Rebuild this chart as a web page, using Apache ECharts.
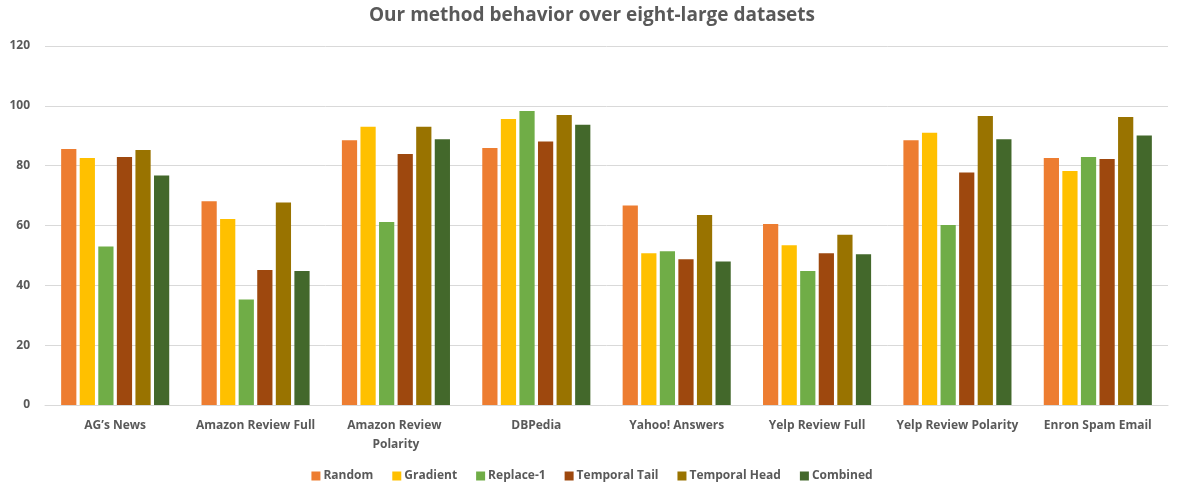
<!DOCTYPE html>
<html>
<head>
<meta charset="utf-8">
<script src="https://cdn.jsdelivr.net/npm/echarts@6/dist/echarts.min.js"></script>
<style>
  html,body{margin:0;padding:0;background:#fff;}
  #main{width:1184px;height:491px;}
</style>
</head>
<body>
<div id="main"></div>
<script>
// datasets
let datasets=['AG’s News','Amazon Review Full','Amazon Review Polarity','DBPedia','Yahoo! Answers','Yelp Review Full','Yelp Review Polarity','Enron Spam Email']
// values
let random      =[85.6,68.1,88.5,85.9,66.7,60.5,88.5,82.6]
let gradient    =[82.6,62.2,93.0,95.6,50.7,53.4,91.0,78.2]
let replace1    =[53.0,35.3,61.2,98.3,51.4,44.8,60.2,82.9]
let temporalTail=[82.9,45.1,83.9,88.1,48.7,50.7,77.7,82.2]
let temporalHead=[85.2,67.7,93.0,96.9,63.5,56.9,96.6,96.3]
let combined    =[76.7,44.8,88.8,93.7,48.0,50.4,88.8,90.1]

let seriesNames=['Random','Gradient','Replace-1','Temporal Tail','Temporal Head','Combined']
let seriesData=[random,gradient,replace1,temporalTail,temporalHead,combined]
let colors=['#ED7D31','#FFC000','#70AD47','#9E480E','#997300','#43682B']

let font='"Open Sans", "Liberation Sans", sans-serif'
let textGray='#595959'

var myChart=echarts.init(document.getElementById('main'))
option={
  animation:false,
  color:colors,
  textStyle:{fontFamily:font},
  title:{
    text:'Our method behavior over eight-large datasets',
    left:'center',
    top:1,
    textStyle:{fontSize:19,fontWeight:'bold',color:textGray,fontFamily:font}
  },
  legend:{
    bottom:4,
    left:'center',
    itemWidth:9,
    itemHeight:9,
    itemGap:19,
    icon:'rect',
    textStyle:{fontSize:12,fontWeight:'bold',color:textGray,fontFamily:font,padding:[0,0,0,-2]}
  },
  grid:{left:45,right:16,top:46,bottom:86,containLabel:false},
  xAxis:{
    type:'category',
    data:datasets,
    axisLine:{lineStyle:{color:'#D9D9D9'}},
    axisTick:{show:false},
    axisLabel:{
      interval:0,
      margin:11,
      fontSize:12,
      fontWeight:'bold',
      color:textGray,
      lineHeight:19,
      width:128,
      overflow:'break'
    }
  },
  yAxis:{
    type:'value',
    min:0,
    max:120,
    interval:20,
    axisLine:{show:false},
    axisTick:{show:false},
    splitLine:{lineStyle:{color:'#D9D9D9'}},
    axisLabel:{fontSize:12,fontWeight:'bold',color:textGray,margin:15}
  },
  series:seriesNames.map((name,i)=>({
    name:name,
    type:'bar',
    data:seriesData[i],
    barGap:'22%',
    barCategoryGap:'23%'
  }))
}
myChart.setOption(option)
</script>
</body>
</html>
